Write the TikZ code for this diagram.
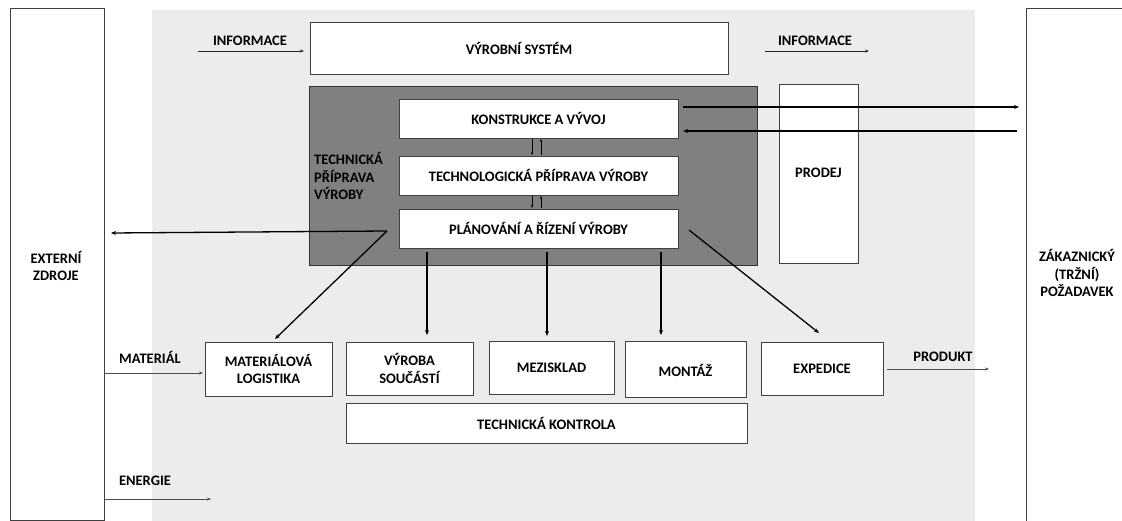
\documentclass[tikz,border=0pt]{standalone}
\usepackage{fontspec}
\setmainfont{Carlito}
\usetikzlibrary{arrows.meta}
\begin{document}
\begin{tikzpicture}[x=1pt,y=-1pt,
  lbl/.style={font=\bfseries\fontsize{14.5}{17.5}\selectfont, align=center, inner sep=0pt},
  box/.style={draw=black!75, line width=0.9pt, fill=white},
  flow/.style={line width=1.3pt, -{Stealth[length=5pt,width=4pt]}},
  thin/.style={line width=0.6pt, draw=black!70, -{Stealth[length=4pt,width=3pt]}},
  tiny/.style={line width=0.6pt, -{Stealth[length=3pt,width=2.5pt]}}]
\useasboundingbox (0,0) rectangle (1122,521);
% background areas
\fill[black!7.5] (152,10) rectangle (975,530);
\draw[box] (10,8) rectangle (104,520);
\draw[box] (1026,8) rectangle (1140,530);
\node[lbl] (ext) at (56,266) {EXTERNÍ\\ZDROJE};
\node[lbl] (zak) at (1077,273) {ZÁKAZNICKÝ\\(TRŽNÍ)\\POŽADAVEK};
% system
\draw[box] (310,22) rectangle (728,74);
\node[lbl] (sys) at (519,48) {VÝROBNÍ SYSTÉM};
\node[lbl] (infl) at (250,41) {INFORMACE};
\node[lbl] (infr) at (815,41) {INFORMACE};
\coordinate (il0) at (198,51); \coordinate (il1) at (304,51);
\coordinate (ir0) at (765,51); \coordinate (ir1) at (869,51);
\draw[thin,draw=black!85] (il0) -- (il1);
\draw[thin,draw=black!85] (ir0) -- (ir1);
% technical preparation block
\draw[draw=black!80, line width=0.9pt, fill=black!50] (309,86) rectangle (757,265);
\node[lbl, align=left, anchor=west] (tpv) at (314,176) {TECHNICKÁ\\PŘÍPRAVA\\VÝROBY};
\draw[box] (399,99) rectangle (678,138);
\node[lbl] (kv) at (538.5,118.5) {KONSTRUKCE A VÝVOJ};
\draw[box] (399,156) rectangle (678,195);
\node[lbl] (tp) at (538.5,175.5) {TECHNOLOGICKÁ PŘÍPRAVA VÝROBY};
\draw[box] (399,209) rectangle (678,248);
\node[lbl] (pr) at (538.5,228.5) {PLÁNOVÁNÍ A ŘÍZENÍ VÝROBY};
\draw[tiny] (532,139) -- (532,155);
\draw[tiny] (541,155) -- (541,139);
\draw[tiny] (532,196) -- (532,208);
\draw[tiny] (541,208) -- (541,196);
% sales
\draw[box] (779,84) rectangle (858,263);
\node[lbl] (prodej) at (818.5,173) {PRODEJ};
% links to customer
\coordinate (c1) at (683,107); \coordinate (c2) at (1019,107);
\coordinate (c3) at (1017,131); \coordinate (c4) at (683,131);
\draw[flow] (c1) -- (c2);
\draw[flow] (c3) -- (c4);
% bottom row
\draw[box] (205,342) rectangle (332,396);
\node[lbl] (ml) at (268.5,369) {MATERIÁLOVÁ\\LOGISTIKA};
\draw[box] (346,342) rectangle (473,395);
\node[lbl] (vs) at (409.5,368.5) {VÝROBA\\SOUČÁSTÍ};
\draw[box] (489,341) rectangle (614,394);
\node[lbl] (mz) at (551.5,367.5) {MEZISKLAD};
\draw[box] (625,341) rectangle (746,397);
\node[lbl] (mo) at (685.5,370) {MONTÁŽ};
\draw[box] (761,342) rectangle (883,395);
\node[lbl] (ex) at (822,368.5) {EXPEDICE};
\draw[box] (346,403) rectangle (747,443);
\node[lbl] (tk) at (546.5,423) {TECHNICKÁ KONTROLA};
% control flows
\coordinate (k) at (387,231);
\coordinate (e1) at (111,233);
\coordinate (m1) at (275,339);
\draw[flow] (k) -- (e1);
\draw[flow] (k) -- (m1);
\draw[flow] (427,252) -- (427,335);
\draw[flow] (547,252) -- (547,336);
\draw[flow] (661,252) -- (661,335);
\draw[flow] (689,230) -- (819,333);
% material, energy, product
\node[lbl] (mat) at (150,357) {MATERIÁL};
\draw[thin] (104,373) -- (203,373);
\node[lbl] (en) at (145,481) {ENERGIE};
\draw[thin] (104,499) -- (211,499);
\node[lbl] (prd) at (943,357) {PRODUKT};
\draw[thin] (887,369) -- (989,369);
\end{tikzpicture}
\end{document}
